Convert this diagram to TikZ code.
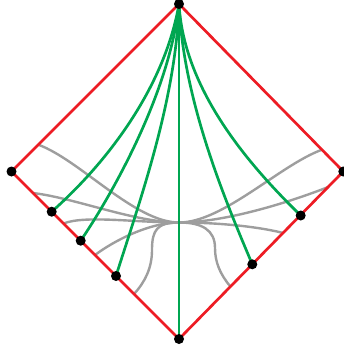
\documentclass[tikz,border=0pt]{standalone}
\definecolor{dred}{RGB}{237,28,36}
\definecolor{dgreen}{RGB}{0,166,81}
\definecolor{dgray}{RGB}{158,158,158}
\begin{document}
\begin{tikzpicture}[x=1pt,y=-1pt,
  dot/.style={circle,fill=black,inner sep=0pt,minimum size=10pt},
  edgeline/.style={draw=dred,line width=2.7pt,line join=miter},
  geo/.style={draw=dgreen,line width=2.7pt},
  slice/.style={draw=dgray,line width=2.4pt}]
\useasboundingbox (0,0) rectangle (344,348);
% positions
\coordinate (T) at (179,4);
\coordinate (L) at (11.5,171.5);
\coordinate (R) at (343.3,171.5);
\coordinate (B) at (179,339);
\coordinate (C) at (179,222.5);
\coordinate (l1) at (51.7,211.7);
\coordinate (l2) at (80.7,240.7);
\coordinate (l3) at (116,276);
\coordinate (r1) at (300.7,215.5);
\coordinate (r2) at (252.3,264.3);
% gray end points on the edges
\coordinate (g1) at (38.3,144.7);
\coordinate (g2) at (33,193);
\coordinate (g3) at (63.5,223.5);
\coordinate (g4) at (95,255);
\coordinate (g5) at (134,294);
\coordinate (g6) at (322,149.7);
\coordinate (g7) at (328,187.1);
\coordinate (g8) at (283,232.9);
\coordinate (g9) at (230,286);
% gray slices
\draw[slice] (g1) .. controls (80,160) and (135,222.5) .. (C);
\draw[slice] (g2) .. controls (75,198) and (135,222.5) .. (C);
\draw[slice] (g3) .. controls (85,215) and (135,222.5) .. (C);
\draw[slice] (g4) .. controls (115,240) and (150,222.5) .. (C);
\draw[slice] (g5) .. controls (145,282) and (152,268) .. (152,250)
                  .. controls (152,230) and (157,222.5) .. (C);
\draw[slice] (g6) .. controls (280,165) and (223,222.5) .. (C);
\draw[slice] (g7) .. controls (290,202) and (225,222.5) .. (C);
\draw[slice] (g8) .. controls (255,226) and (215,222.5) .. (C);
\draw[slice] (g9) .. controls (220,274) and (215,262) .. (215,248)
                  .. controls (215,230) and (202,222.5) .. (C);
% red boundary
\draw[edgeline] (T) -- (R) -- (B) -- (L) -- cycle;
% green geodesics
\draw[geo] (T) -- (B);
\draw[geo] (T) .. controls (165,85) and (110,160) .. (l1);
\draw[geo] (T) .. controls (170,90) and (115,190) .. (l2);
\draw[geo] (T) .. controls (176,100) and (140,200) .. (l3);
\draw[geo] (T) .. controls (183,100) and (225,200) .. (r2);
\draw[geo] (T) .. controls (184,92) and (252,168) .. (r1);
% dots
\node[dot] (dT) at (T) {};
\node[dot] (dL) at (L) {};
\node[dot] (dR) at (R) {};
\node[dot] (dB) at (B) {};
\node[dot] (dl1) at (l1) {};
\node[dot] (dl2) at (l2) {};
\node[dot] (dl3) at (l3) {};
\node[dot] (dr1) at (r1) {};
\node[dot] (dr2) at (r2) {};
\end{tikzpicture}
\end{document}
